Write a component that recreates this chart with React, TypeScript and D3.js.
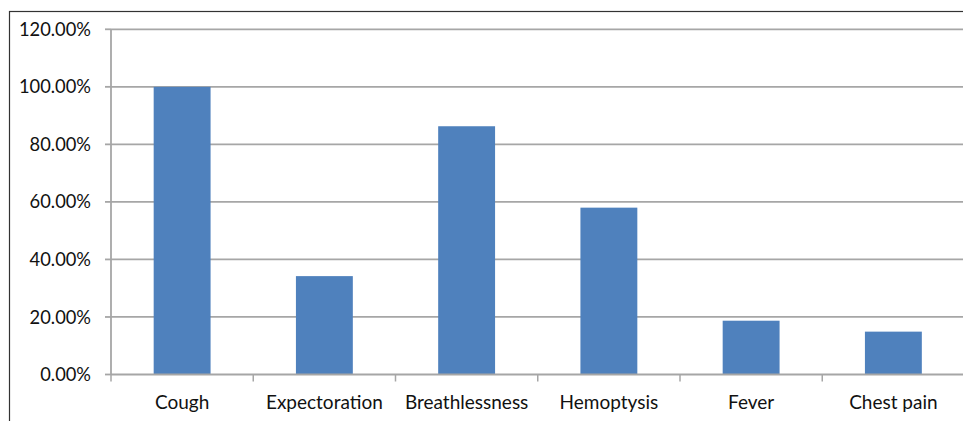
import React from 'react';
import * as d3 from 'd3';

const categories = ['Cough', 'Expectoration', 'Breathlessness', 'Hemoptysis', 'Fever', 'Chest pain'];
const percentages = [100, 34.2, 86.3, 58.0, 18.7, 14.9];
const yTicks = [0, 20, 40, 60, 80, 100, 120];

const W = 963;
const H = 421;
const plotLeft = 111;
const plotRight = 964.5;
const plotTop = 29.3;
const plotBottom = 374.5;

const FONT = 'Lato, "Open Sans", sans-serif';

export default function App() {
  const x = d3.scaleBand<string>()
    .domain(categories)
    .range([plotLeft, plotRight])
    .paddingInner(0.6)
    .paddingOuter(0.3);

  const y = d3.scaleLinear()
    .domain([0, 120])
    .range([plotBottom, plotTop]);

  const step = x.step();

  return (
    <svg width={W} height={H} style={{ position: 'absolute', left: 0, top: 0, background: '#fff' }}>
      {/* outer frame */}
      <rect x={9.5} y={11.5} width={W + 10} height={H + 10} fill="none" stroke="#333" strokeWidth={1.2} />

      {/* grid lines and y ticks */}
      {yTicks.map(t => (
        <g key={t}>
          {t > 0 && (
            <line x1={plotLeft} x2={W} y1={y(t)} y2={y(t)} stroke="#a6a6a6" strokeWidth={1.8} />
          )}
          <line x1={105} x2={plotLeft} y1={y(t)} y2={y(t)} stroke="#a6a6a6" strokeWidth={1.8} />
          <text
            x={91}
            y={y(t)}
            dy="0.36em"
            textAnchor="end"
            fontFamily={FONT}
            fontSize={18.3}
            fill="#111"
          >
            {d3.format('.2f')(t)}%
          </text>
        </g>
      ))}

      {/* bars */}
      {categories.map((c, i) => (
        <rect
          key={c}
          x={x(c)}
          y={y(percentages[i])}
          width={x.bandwidth()}
          height={plotBottom - y(percentages[i])}
          fill="#4f81bd"
        />
      ))}

      {/* axes */}
      <line x1={plotLeft} x2={plotLeft} y1={plotTop} y2={plotBottom} stroke="#a6a6a6" strokeWidth={1.8} />
      <line x1={plotLeft} x2={W} y1={plotBottom} y2={plotBottom} stroke="#a6a6a6" strokeWidth={1.8} />
      {categories.map((c, i) => (
        <line
          key={`tick-${c}`}
          x1={plotLeft + step * (i + 1)}
          x2={plotLeft + step * (i + 1)}
          y1={plotBottom}
          y2={plotBottom + 7}
          stroke="#a6a6a6"
          strokeWidth={1.5}
        />
      ))}
      <line x1={plotLeft} x2={plotLeft} y1={plotBottom} y2={plotBottom + 7} stroke="#a6a6a6" strokeWidth={1.5} />

      {/* category labels */}
      {categories.map(c => (
        <text
          key={`lbl-${c}`}
          x={(x(c) ?? 0) + x.bandwidth() / 2}
          y={409}
          textAnchor="middle"
          fontFamily={FONT}
          fontSize={19}
          fill="#111"
        >
          {c}
        </text>
      ))}
    </svg>
  );
}
